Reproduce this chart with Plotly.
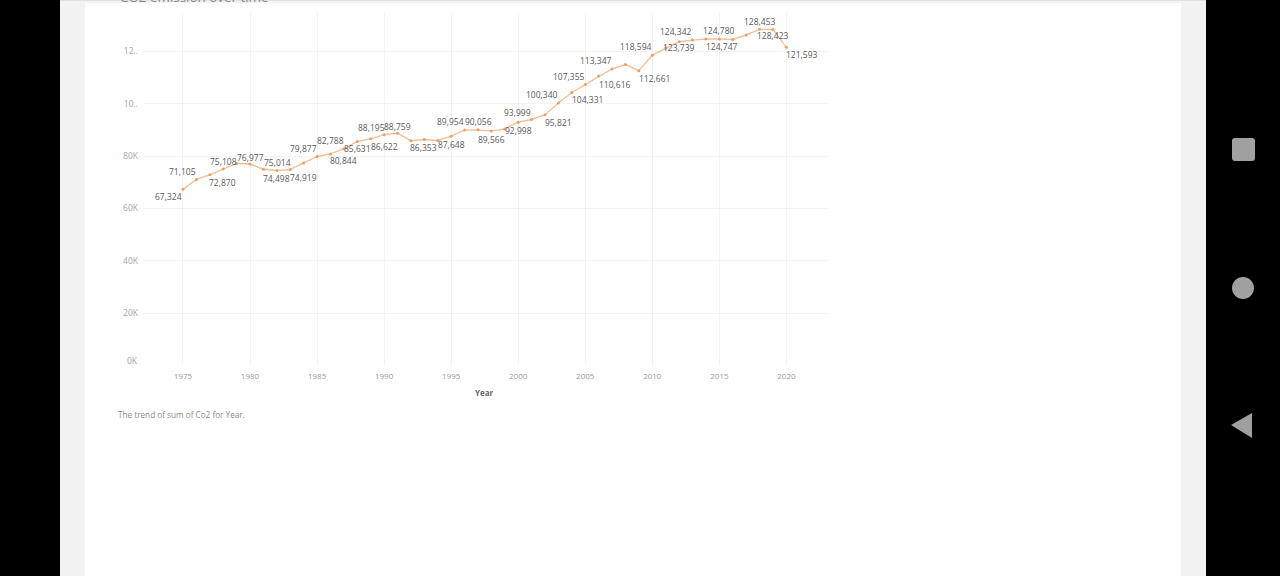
import plotly.graph_objects as go

years = list(range(1975, 2021))
co2 = [67324, 71105, 72870, 75108, 77200, 76977, 75014, 74498, 74919, 77400,
       79877, 80844, 82788, 85631, 86622, 88195, 88759, 85900, 86353, 86000,
       87648, 89954, 90056, 89566, 90400, 92998, 93999, 95821, 100340, 104331,
       107355, 110616, 113347, 115000, 112661, 118594, 121300, 123739, 124342, 124747,
       124780, 124600, 126300, 128453, 128423, 121593]
unlabelled_years = [1979, 1984, 1992, 1994, 1999, 2008, 2011, 2016, 2017]
y_ticks = [0, 20000, 40000, 60000, 80000, 100000, 120000]
y_tick_labels = ["", "20K", "40K", "60K", "80K", "10..", "12.."]
x_ticks = [1975, 1980, 1985, 1990, 1995, 2000, 2005, 2010, 2015, 2020]

label_offsets = {
    1975: (-14, -7), 1976: (-14, 8), 1977: (13, -8), 1978: (0, 7), 1980: (0, 7),
    1981: (14, 7), 1982: (0, -8), 1983: (13, -8), 1985: (-14, 8), 1986: (13, -7),
    1987: (-13, 8), 1988: (0, -7), 1989: (14, -8), 1990: (-13, 7), 1991: (0, 7),
    1993: (-1, -8), 1995: (0, -8), 1996: (-14, 9), 1997: (1, 8), 1998: (0, -8),
    2000: (0, -8), 2001: (-14, 7), 2002: (13, -8), 2003: (-16, 8), 2004: (16, -7),
    2005: (-16, 8), 2006: (16, -8), 2007: (-16, 8), 2009: (16, -8), 2010: (-16, 9),
    2012: (0, -6), 2013: (-17, 9), 2014: (16, -7), 2015: (0, 8), 2018: (0, 8),
    2019: (0, -6), 2020: (16, -7),
}

W, H = 1280, 576
FONT = "Open Sans"


def px(x):
    return x / W


def py(y):
    return 1 - y / H


fig = go.Figure()
fig.add_trace(go.Scatter(
    x=years, y=co2, mode="lines+markers",
    line=dict(color="#f4c097", width=1.4),
    marker=dict(color="#e8a268", size=3),
    hoverinfo="skip", showlegend=False,
))

annotations = []
for yr, val in zip(years, co2):
    if yr in unlabelled_years:
        continue
    dx, dy = label_offsets[yr]
    annotations.append(dict(
        x=yr, y=val, xref="x", yref="y", text=f"{val:,}", showarrow=False,
        xshift=dx, yshift=dy, font=dict(family=FONT, size=8.5, color="#5a5a5a"),
    ))


def page_text(x, y, text, size, color, anchor="left", weight="normal"):
    annotations.append(dict(
        x=px(x), y=py(y), xref="paper", yref="paper", text=text, showarrow=False,
        xanchor=anchor, yanchor="middle",
        font=dict(family=FONT, size=size, color=color, weight=weight),
    ))


page_text(118, -3, "CO2 emission over time", 13.4, "#8a8a8a")
page_text(484, 392, "Year", 8, "#666666", anchor="center", weight="bold")
page_text(116, 414, "The trend of sum of Co2 for Year.", 8.2, "#8c8c8c")
page_text(140, 360, "0K", 8.5, "#a5a5a5", anchor="right")


def rect(x0, y0, x1, y1, color):
    return dict(type="rect", xref="paper", yref="paper", layer="below",
                x0=px(x0), x1=px(x1), y0=py(y0), y1=py(y1),
                fillcolor=color, line_width=0)


def rounded_square(x0, y0, x1, y1, r):
    p = (f"M {px(x0 + r)} {py(y0)} L {px(x1 - r)} {py(y0)} Q {px(x1)} {py(y0)} {px(x1)} {py(y0 + r)} "
         f"L {px(x1)} {py(y1 - r)} Q {px(x1)} {py(y1)} {px(x1 - r)} {py(y1)} "
         f"L {px(x0 + r)} {py(y1)} Q {px(x0)} {py(y1)} {px(x0)} {py(y1 - r)} "
         f"L {px(x0)} {py(y0 + r)} Q {px(x0)} {py(y0)} {px(x0 + r)} {py(y0)} Z")
    return dict(type="path", xref="paper", yref="paper", layer="above", path=p,
                fillcolor="#a0a0a0", line_width=0)


shapes = [
    rect(0, 0, 60, 576, "#000000"),
    rect(60, 0, 85, 576, "#f2f2f2"),
    rect(1181, 0, 1206, 576, "#f2f2f2"),
    rect(1206, 0, 1280, 576, "#000000"),
    rect(60, 0, 1206, 1, "#e2e2e2"),
    rect(60, 1, 1206, 3, "#f3f3f3"),
    rounded_square(1232, 138, 1255, 161, 3),
    dict(type="circle", xref="paper", yref="paper", layer="above",
         x0=px(1232), x1=px(1254), y0=py(277), y1=py(299),
         fillcolor="#a0a0a0", line_width=0),
    dict(type="path", xref="paper", yref="paper", layer="above",
         path=f"M {px(1231)} {py(425)} L {px(1252)} {py(413)} L {px(1252)} {py(438)} Z",
         fillcolor="#a0a0a0", line_width=0),
]

fig.update_layout(
    width=W, height=H, margin=dict(l=0, r=0, t=0, b=0),
    paper_bgcolor="#ffffff", plot_bgcolor="rgba(0,0,0,0)",
    annotations=annotations, shapes=shapes, showlegend=False,
    xaxis=dict(
        domain=[px(143), px(827)], range=[1972.02, 2023.03],
        tickvals=x_ticks, ticktext=[str(t) for t in x_ticks],
        showgrid=True, gridcolor="#f3f3f3", gridwidth=1,
        zeroline=False, showline=False, ticks="", ticklabelstandoff=4,
        tickfont=dict(family=FONT, size=8, color="#9a9a9a"),
    ),
    yaxis=dict(
        domain=[py(365.5), py(13)], range=[0, 134700],
        tickvals=y_ticks, ticktext=y_tick_labels,
        showgrid=True, gridcolor="#f3f3f3", gridwidth=1,
        zeroline=False, showline=False, ticks="", ticklabelstandoff=4,
        tickfont=dict(family=FONT, size=8.5, color="#a5a5a5"),
    ),
)

fig.write_html(
    "out.html",
    config={"displayModeBar": False},
    post_script="document.documentElement.style.margin='0';document.body.style.margin='0';document.body.style.overflow='hidden';",
)
